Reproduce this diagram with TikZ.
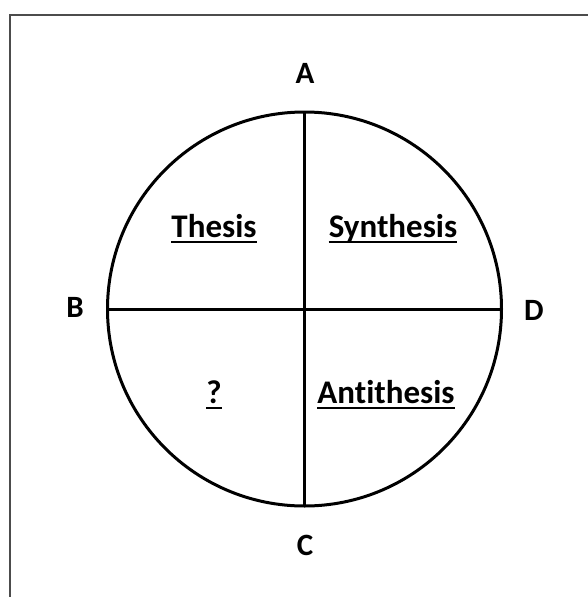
\documentclass[tikz,border=0pt]{standalone}
\usepackage{fontspec}
\setmainfont{Carlito}[Ligatures=NoCommon,RawFeature={-calt;-dlig}]
\begin{document}
\begin{tikzpicture}[x=1pt,y=-1pt,
  quad/.style={font=\fontsize{33}{36}\selectfont\bfseries, inner sep=0pt, anchor=base},
  pole/.style={font=\fontsize{31}{34}\selectfont\bfseries, inner sep=0pt, anchor=base},
  uline/.style={line width=2pt},
  axis/.style={line width=3pt}]
\useasboundingbox (0,0) rectangle (588,597);
\draw[line width=2pt, color=black!70] (10,597) -- (10,14.5) -- (588,14.5);
\coordinate (O) at (304.5,309);
\draw[axis] (O) circle (197);
\coordinate (top) at (304.5,112);
\coordinate (bot) at (304.5,506);
\coordinate (lft) at (107.5,309);
\coordinate (rgt) at (501.5,309);
\draw[axis] (top) -- (bot);
\draw[axis] (lft) -- (rgt);
\node[pole] (A) at (305,83) {A};
\node[pole] (B) at (75,317) {B};
\node[pole] (C) at (305,555) {C};
\node[pole] (D) at (534,320) {D};
\node[quad] (th) at (214,237) {Thesis};
\node[quad] (sy) at (393,237) {Synthesis};
\node[quad] (qm) at (214,403) {?};
\node[quad] (an) at (386,403) {Ant\kern0pt ithesis};
\foreach \n in {th,sy,qm,an}
  \draw[uline] ([yshift=-5pt]\n.base west) -- ([yshift=-5pt]\n.base east);
\end{tikzpicture}
\end{document}
